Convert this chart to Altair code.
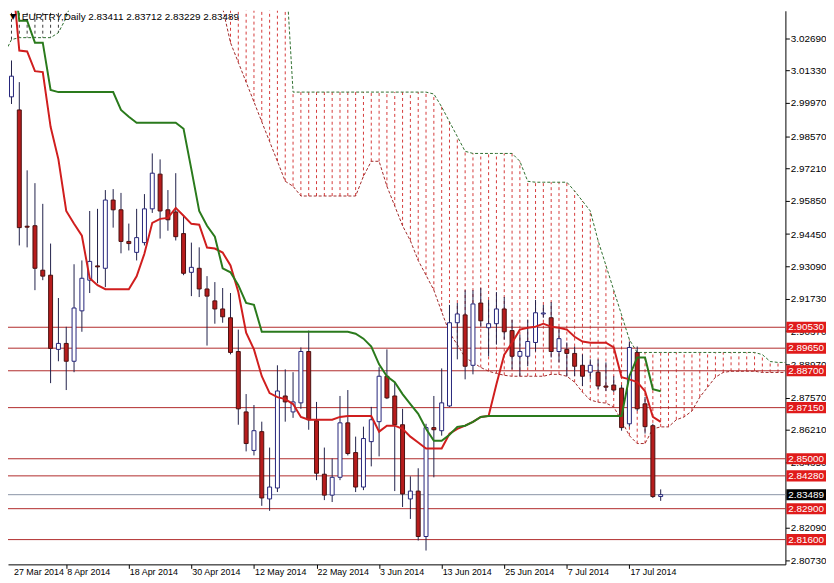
import altair as alt
import pandas as pd

# ---------------- data ----------------
bar_idx = list(range(85))  # trading-day index, 0 = 27 Mar 2014
opens = [3.0188, 3.0022, 2.9967, 2.9478, 2.9480, 2.9293, 2.9272, 2.8960, 2.8985, 2.8910,
         2.9122, 2.9251, 2.9311, 2.9301, 2.9588, 2.9547, 2.9414, 2.9368, 2.9409, 2.9551,
         2.9697, 2.9547, 2.9538, 2.9447, 2.9284, 2.9301, 2.9214, 2.9164, 2.9130, 2.9093,
         2.8951, 2.8697, 2.8535, 2.8614, 2.8331, 2.8377, 2.8764, 2.8697, 2.8735, 2.8951,
         2.8660, 2.8435, 2.8347, 2.8422, 2.8651, 2.8526, 2.8381, 2.8572, 2.8656, 2.8847,
         2.8764, 2.8643, 2.8331, 2.8364, 2.8173, 2.8631, 2.8618, 2.8722, 2.9072, 2.9105,
         2.8893, 2.9155, 2.9051, 2.9068, 2.9130, 2.9039, 2.8931, 2.8931, 2.8989, 2.9109,
         2.9093, 2.8951, 2.8960, 2.8943, 2.8893, 2.8864, 2.8864, 2.8806, 2.8810, 2.8797,
         2.8647, 2.8947, 2.8731, 2.8639, 2.83411]
highs = [3.0230, 3.0175, 3.0084, 2.9713, 2.9659, 2.9572, 2.9405, 2.9176, 2.9055, 2.9318,
         2.9334, 2.9542, 2.9551, 2.9630, 2.9634, 2.9618, 2.9489, 2.9551, 2.9613, 2.9784,
         2.9759, 2.9630, 2.9701, 2.9522, 2.9409, 2.9389, 2.9268, 2.9243, 2.9218, 2.9197,
         2.9043, 2.8772, 2.8726, 2.8656, 2.8547, 2.8893, 2.8876, 2.8864, 2.8968, 2.9039,
         2.8739, 2.8547, 2.8501, 2.8764, 2.8789, 2.8593, 2.8635, 2.8718, 2.8885, 2.8960,
         2.8822, 2.8710, 2.8426, 2.8460, 2.8647, 2.8764, 2.8880, 2.9147, 2.9155, 2.9209,
         2.9209, 2.9218, 2.9168, 2.9201, 2.9180, 2.9085, 2.9022, 2.9085, 2.9168, 2.9147,
         2.9159, 2.9055, 2.8989, 2.8972, 2.8939, 2.8918, 2.8918, 2.8905, 2.8847, 2.8810,
         2.8993, 2.8972, 2.8760, 2.8647, 2.83712]
lows = [3.0001, 2.9992, 2.9397, 2.9389, 2.9209, 2.9251, 2.8818, 2.8910, 2.8789, 2.8864,
        2.9034, 2.9197, 2.9238, 2.9222, 2.9472, 2.9364, 2.9376, 2.9334, 2.9397, 2.9534,
        2.9426, 2.9459, 2.9418, 2.9272, 2.9184, 2.9180, 2.8976, 2.9068, 2.9072, 2.8939,
        2.8643, 2.8531, 2.8514, 2.8302, 2.8281, 2.8360, 2.8656, 2.8672, 2.8710, 2.8622,
        2.8410, 2.8326, 2.8318, 2.8410, 2.8514, 2.8360, 2.8368, 2.8468, 2.8510, 2.8751,
        2.8364, 2.8297, 2.8247, 2.8156, 2.8114, 2.8422, 2.8597, 2.8718, 2.8918, 2.8834,
        2.8855, 2.9055, 2.8931, 2.8980, 2.9001, 2.8876, 2.8847, 2.8889, 2.8951, 2.9093,
        2.8926, 2.8905, 2.8847, 2.8847, 2.8806, 2.8834, 2.8793, 2.8785, 2.8781, 2.8618,
        2.8635, 2.8701, 2.8606, 2.8335, 2.83229]
closes = [3.0030, 3.0109, 2.9472, 2.9474, 2.9301, 2.9268, 2.8964, 2.8985, 2.8910, 2.9134,
          2.9259, 2.9330, 2.9307, 2.9588, 2.9547, 2.9414, 2.9405, 2.9430, 2.9551, 2.9701,
          2.9542, 2.9505, 2.9434, 2.9280, 2.9305, 2.9214, 2.9184, 2.9130, 2.9097, 2.8947,
          2.8710, 2.8564, 2.8618, 2.8335, 2.8381, 2.8785, 2.8739, 2.8739, 2.8951, 2.8664,
          2.8439, 2.8347, 2.8422, 2.8651, 2.8522, 2.8381, 2.8585, 2.8664, 2.8847, 2.8756,
          2.8643, 2.8352, 2.8364, 2.8173, 2.8631, 2.8622, 2.8735, 2.9072, 2.9109, 2.8889,
          2.9151, 2.9080, 2.9068, 2.9130, 2.9034, 2.8931, 2.8951, 2.8993, 2.9114, 2.9113,
          2.8951, 2.9005, 2.8943, 2.8889, 2.8847, 2.8893, 2.8806, 2.8801, 2.8789, 2.8631,
          2.8968, 2.8710, 2.8635, 2.8341, 2.83489]
tenkan = [3.0620, 3.0571, 3.0217, 3.0213, 3.0130, 3.0126, 2.9896, 2.9759, 2.9542, 2.9488,
          2.9438, 2.9259, 2.9230, 2.9213, 2.9213, 2.9213, 2.9213, 2.9267, 2.9363, 2.9492,
          2.9509, 2.9513, 2.9555, 2.9522, 2.9488, 2.9484, 2.9388, 2.9384, 2.9367, 2.9313,
          2.9201, 2.9030, 2.8960, 2.8847, 2.8776, 2.8759, 2.8751, 2.8730, 2.8676, 2.8664,
          2.8664, 2.8664, 2.8664, 2.8676, 2.8680, 2.8680, 2.8680, 2.8680, 2.8614, 2.8639,
          2.8639, 2.8626, 2.8593, 2.8568, 2.8543, 2.8543, 2.8543, 2.8605, 2.8626, 2.8639,
          2.8655, 2.8676, 2.8680, 2.8813, 2.8938, 2.8988, 2.9043, 2.9051, 2.9055, 2.9068,
          2.9055, 2.9051, 2.9043, 2.9013, 2.8993, 2.8988, 2.8988, 2.8988, 2.8968, 2.8843,
          2.8834, 2.8822, 2.8784, 2.8676, 2.8655]
kijun = [3.0700, 3.0613, 3.0342, 3.0342, 3.0250, 3.0250, 3.0051, 3.0042, 3.0042, 3.0042,
         3.0042, 3.0042, 3.0042, 3.0042, 3.0042, 2.9967, 2.9938, 2.9913, 2.9913, 2.9913,
         2.9913, 2.9913, 2.9913, 2.9888, 2.9717, 2.9542, 2.9480, 2.9434, 2.9301, 2.9284,
         2.9230, 2.9155, 2.9147, 2.9034, 2.9034, 2.9034, 2.9034, 2.9034, 2.9034, 2.9034,
         2.9034, 2.9034, 2.9034, 2.9034, 2.9034, 2.9026, 2.9005, 2.8972, 2.8897, 2.8847,
         2.8822, 2.8772, 2.8730, 2.8689, 2.8626, 2.8576, 2.8576, 2.8601, 2.8634, 2.8639,
         2.8655, 2.8676, 2.8680, 2.8680, 2.8680, 2.8680, 2.8680, 2.8680, 2.8680, 2.8680,
         2.8680, 2.8680, 2.8680, 2.8680, 2.8680, 2.8680, 2.8680, 2.8680, 2.8680, 2.8680,
         2.8847, 2.8926, 2.8926, 2.8793, 2.8784]

cloud_idx = list(range(101))
span_a = ([3.0900] * 10 + [3.1000] * 11 + [3.0700] * 7 +
          [3.0396, 3.0250, 3.0167, 3.0084, 3.0001, 2.9917, 2.9834, 2.9751, 2.9667, 2.9646] +
          [2.9605] * 8 +
          [2.9688, 2.9751, 2.9751, 2.9646, 2.9563, 2.9480, 2.9417, 2.9334, 2.9272, 2.9209,
           2.9118, 2.9030, 2.8980, 2.8926, 2.8905, 2.8884, 2.8868, 2.8859, 2.8851, 2.8847,
           2.8847, 2.8847, 2.8847, 2.8847, 2.8855, 2.8855, 2.8847, 2.8822, 2.8780, 2.8747,
           2.8738, 2.8734, 2.8718, 2.8660, 2.8597, 2.8564, 2.8564, 2.8626, 2.8634, 2.8634,
           2.8664, 2.8676, 2.8701, 2.8759, 2.8801, 2.8843, 2.8863, 2.8868, 2.8868, 2.8868,
           2.8868, 2.8863, 2.8863, 2.8863, 2.8863])
span_b = ([3.0196, 3.0263, 3.0271, 3.0271, 3.0271, 3.0271, 3.0271, 3.0292, 3.0355, 3.0459] +
          [3.0800] * 11 + [3.1000] * 7 + [3.1000] * 8 + [3.0600] + [3.0042] * 18 +
          [3.0034, 2.9980, 2.9917, 2.9855, 2.9793] + [2.9784] * 6 + [2.9751, 2.9667] +
          [2.9663] * 5 +
          [2.9626, 2.9584, 2.9542, 2.9417, 2.9313, 2.9209, 2.9105, 2.9001] +
          [2.8947] * 16 + [2.8938, 2.8909, 2.8905, 2.8905])

level_prices = [2.9053, 2.8965, 2.8870, 2.8715, 2.8500, 2.8428, 2.8290, 2.8160]
bid_price = 2.83489
y_ticks = [3.04090, 3.02690, 3.01330, 2.99970, 2.98570, 2.97210, 2.95850, 2.94450,
           2.93090, 2.91730, 2.90370, 2.88970, 2.87570, 2.86210, 2.84850,
           2.82090, 2.80730]
date_labels = ["27 Mar 2014", "8 Apr 2014", "18 Apr 2014", "30 Apr 2014", "12 May 2014",
               "22 May 2014", "3 Jun 2014", "13 Jun 2014", "25 Jun 2014", "7 Jul 2014",
               "17 Jul 2014"]
date_bars = [0, 8, 16, 24, 32, 40, 48, 56, 64, 72, 80]
title_text = "EURTRY,Daily  2.83411 2.83712 2.83229 2.83489"

# ---------------- layout ----------------
W, H = 785, 559
X_DOM = [1.1875, 99.3125]
Y_DOM = [2.80558, 3.03840]
FONT = "Liberation Sans"

xs = alt.Scale(domain=X_DOM, nice=False, zero=False)
ys = alt.Scale(domain=Y_DOM, nice=False, zero=False)
x_axis = alt.Axis(orient="bottom", values=date_bars[1:], labels=False, ticks=True,
                  tickSize=4, tickColor="black", domainColor="black", grid=False,
                  title=None)
y_axis = alt.Axis(orient="right", values=y_ticks, format=".5f", tickSize=4,
                  tickColor="black", domainColor="black", grid=False, title=None,
                  labelFont=FONT, labelFontSize=10, labelColor="black",
                  labelPadding=1, labelOverlap=False, labelFlush=False)


def X(f):
    return alt.X(f"{f}:Q", scale=xs, axis=x_axis)


def Y(f):
    return alt.Y(f"{f}:Q", scale=ys, axis=y_axis)


candles = pd.DataFrame({"i": bar_idx, "o": opens, "h": highs, "l": lows, "c": closes})
candles["fill"] = ["#ffffff" if c >= o else "#b71c1c" for o, c in zip(opens, closes)]
candles["edge"] = ["#23237a" if c >= o else "#4a1010" for o, c in zip(opens, closes)]

lines = pd.DataFrame({"i": bar_idx, "tenkan": tenkan, "kijun": kijun})
cloud = pd.DataFrame({"i": cloud_idx, "a": span_a, "b": span_b})
cloud["hc"] = ["#d43a3a" if b > a else "#3a3a3a" for a, b in zip(span_a, span_b)]

levels = pd.DataFrame({"p": level_prices})
levels["lbl"] = [f"{v:.5f}" for v in level_prices]
levels["bg"] = "#e01b1b"
tags = pd.concat([levels, pd.DataFrame({"p": [bid_price], "lbl": [f"{bid_price:.5f}"],
                                         "bg": ["#000000"]})], ignore_index=True)

dates = pd.DataFrame({"pos": [max(b, X_DOM[0]) for b in date_bars], "lbl": date_labels})
title_df = pd.DataFrame({"t": [title_text]})

hatch = alt.Chart(cloud).mark_rule(clip=True, strokeWidth=1, strokeDash=[3, 3]).encode(
    x=X("i"), y=Y("a"), y2="b", color=alt.Color("hc:N", scale=None))
line_a = alt.Chart(cloud).mark_line(clip=True, strokeWidth=1, strokeDash=[3, 2],
                                    color="#a02828").encode(x=X("i"), y=Y("a"))
line_b = alt.Chart(cloud).mark_line(clip=True, strokeWidth=1, strokeDash=[3, 2],
                                    color="#2f6f2f").encode(x=X("i"), y=Y("b"))

level_rules = alt.Chart(levels).mark_rule(color="#b02a2a", strokeWidth=1).encode(y=Y("p"))
bid_rule = alt.Chart(pd.DataFrame({"p": [bid_price]})).mark_rule(
    color="#8a94a6", strokeWidth=1).encode(y=Y("p"))

wicks = alt.Chart(candles).mark_rule(clip=True, strokeWidth=1, color="#20204a").encode(
    x=X("i"), y=Y("l"), y2="h")
bodies = alt.Chart(candles).mark_bar(clip=True, size=4, strokeWidth=1).encode(
    x=X("i"), y=Y("o"), y2="c",
    fill=alt.Fill("fill:N", scale=None), stroke=alt.Stroke("edge:N", scale=None))

tk = alt.Chart(lines).mark_line(clip=True, strokeWidth=2, color="#d01e1e").encode(
    x=X("i"), y=Y("tenkan"))
kj = alt.Chart(lines).mark_line(clip=True, strokeWidth=2, color="#2a7a1c").encode(
    x=X("i"), y=Y("kijun"))

tag_box = alt.Chart(tags).mark_point(
    shape="M-1,-0.28L1,-0.28L1,0.28L-1,0.28Z", size=1600, filled=True, opacity=1,
    strokeWidth=0).encode(x=alt.value(W + 21), y=Y("p"), color=alt.Color("bg:N", scale=None))
tag_txt = alt.Chart(tags).mark_text(align="left", baseline="middle", font=FONT, fontSize=10,
                                    color="white").encode(
    x=alt.value(W + 3), y=Y("p"), text="lbl:N")

date_txt = alt.Chart(dates).mark_text(align="left", baseline="top", font=FONT, fontSize=9,
                                      color="black", dx=1).encode(
    x=X("pos"), y=alt.value(H + 4), text="lbl:N")

tri = alt.Chart(title_df).mark_text(align="left", baseline="top", font="DejaVu Sans",
                                    fontSize=8, color="black").encode(
    x=alt.value(2), y=alt.value(2), text=alt.value("▼"))
title = alt.Chart(title_df).mark_text(align="left", baseline="top", font=FONT, fontSize=10,
                                      color="black").encode(
    x=alt.value(14), y=alt.value(1), text="t:N")

chart = alt.layer(
    hatch, line_a, line_b, level_rules, bid_rule, wicks, bodies, tk, kj,
    tag_box, tag_txt, date_txt, tri, title
).properties(
    width=W, height=H,
    padding={"left": 0, "top": 0, "right": 41, "bottom": 16},
    autosize=alt.AutoSizeParams(type="none"),
    background="white",
).configure_view(stroke=None)

chart.save("out.html", embed_options={"renderer": "svg", "actions": False})
